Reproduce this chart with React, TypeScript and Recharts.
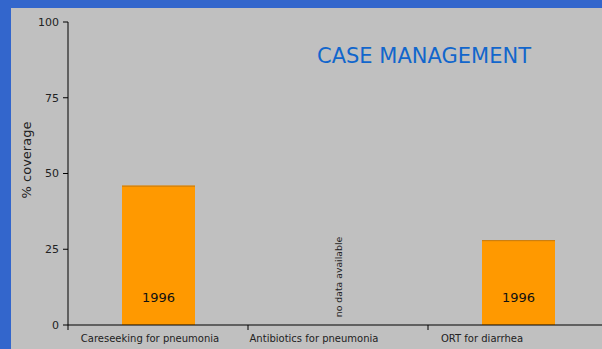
import React from 'react';
import { BarChart, Bar, XAxis, YAxis, LabelList, ReferenceLine } from 'recharts';

const categories = ['Careseeking for pneumonia', 'Antibiotics for pneumonia', 'ORT for diarrhea'];
const coverage: (number | null)[] = [46, null, 28];
const surveyYears: (string | null)[] = ['1996', null, '1996'];
const yTicks = [0, 25, 50, 75, 100];
const noDataText = 'no data available';

const data = categories.map((name, i) => ({
  name,
  value: coverage[i],
  year: surveyYears[i],
}));

const FONT = '"DejaVu Sans", Verdana, sans-serif';
const HALF_BAND = 90;
// Excel-ish label placement, labels sit a bit left of the band centre
const labelShift = [-8, -24, -36];

const BarWithTop = (props: any) => {
  const { x, y, width, height, fill } = props;
  if (!height || height <= 0) return null;
  return (
    <g>
      <rect x={x} y={y} width={width} height={height} fill={fill} />
      <line x1={x} x2={x + width} y1={y + 0.5} y2={y + 0.5} stroke="#c47a10" strokeWidth={1} />
    </g>
  );
};

const CategoryTick = (props: any) => {
  const { x, y, payload, index } = props;
  const last = index === categories.length - 1;
  return (
    <g>
      <line x1={x - HALF_BAND} x2={x - HALF_BAND} y1={y} y2={y + 5} stroke="#000" />
      {last && <line x1={x + HALF_BAND} x2={x + HALF_BAND} y1={y} y2={y + 5} stroke="#000" />}
      <text
        x={x + (labelShift[index] ?? 0)}
        y={y + 13}
        textAnchor="middle"
        dominantBaseline="central"
        fontSize={10}
        fontFamily={FONT}
        fill="#222"
      >
        {payload.value}
      </text>
    </g>
  );
};

const YearLabel = (props: any) => {
  const { x, y, width, height, value } = props;
  if (!value) return null;
  return (
    <text
      x={x + width / 2}
      y={y + height - 28}
      textAnchor="middle"
      dominantBaseline="central"
      fontSize={13}
      fontFamily={FONT}
      fill="#111"
    >
      {value}
    </text>
  );
};

export default function App() {
  return (
    <div style={{ position: 'absolute', left: 0, top: 0, width: 602, height: 349, background: '#3366cc', overflow: 'hidden' }}>
      <div style={{ position: 'absolute', left: 11, top: 8, right: 0, bottom: 0, background: '#c0c0c0' }} />
      <div style={{ position: 'absolute', left: 0, top: 0 }}>
        <BarChart
          width={602}
          height={349}
          data={data}
          margin={{ top: 22, right: -6, bottom: 0, left: 8 }}
          barCategoryGap={0}
        >
          <XAxis
            dataKey="name"
            height={24}
            tickSize={0}
            tickMargin={0}
            tickLine={false}
            axisLine={{ stroke: '#000' }}
            tick={<CategoryTick />}
            interval={0}
          />
          <YAxis
            width={60}
            domain={[0, 100]}
            ticks={yTicks}
            tickSize={5}
            tickMargin={4}
            axisLine={{ stroke: '#000' }}
            tickLine={{ stroke: '#000' }}
            tick={{ fontSize: 11, fontFamily: FONT, fill: '#222' }}
            label={{
              content: () => (
                <text
                  x={26}
                  y={160}
                  transform="rotate(-90, 26, 160)"
                  textAnchor="middle"
                  dominantBaseline="central"
                  fontSize={13}
                  fontFamily={FONT}
                  fill="#222"
                >
                  % coverage
                </text>
              ),
            }}
          />
          <ReferenceLine
            x={categories[1]}
            stroke="none"
            label={{
              content: (p: any) => {
                const vb = p.viewBox || {};
                const cx = vb.x ?? 338;
                const cy = (vb.y ?? 22) + (vb.height ?? 303) - 48;
                return (
                  <text
                    x={cx}
                    y={cy}
                    transform={`rotate(-90, ${cx}, ${cy})`}
                    textAnchor="middle"
                    dominantBaseline="central"
                    fontSize={9.3}
                    fontFamily={FONT}
                    fill="#222"
                  >
                    {noDataText}
                  </text>
                );
              },
            }}
          />
          <Bar dataKey="value" fill="#ff9900" barSize={73} shape={<BarWithTop />} isAnimationActive={false}>
            <LabelList dataKey="year" content={<YearLabel />} />
          </Bar>
        </BarChart>
      </div>
      <div
        style={{
          position: 'absolute',
          left: 317,
          top: 46,
          fontFamily: FONT,
          fontSize: 21,
          lineHeight: '21px',
          color: '#1166cc',
          whiteSpace: 'nowrap',
        }}
      >
        CASE MANAGEMENT
      </div>
    </div>
  );
}
